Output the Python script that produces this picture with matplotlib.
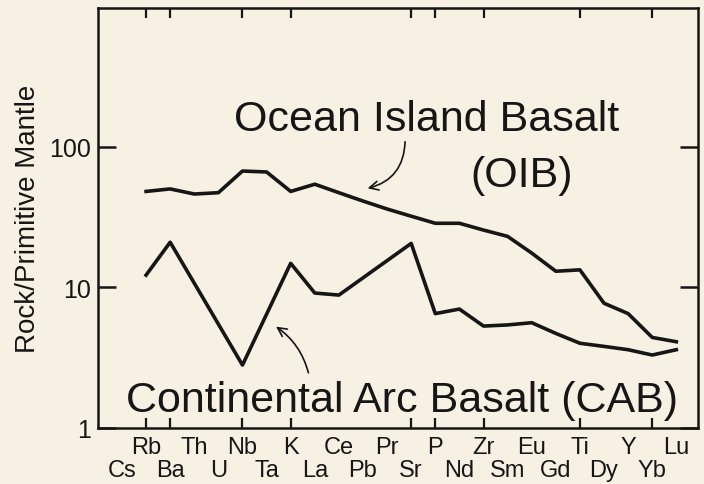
import matplotlib
matplotlib.use('Agg')
import matplotlib.pyplot as plt
import numpy as np

# element order along the x axis
elements = ['Cs', 'Rb', 'Ba', 'Th', 'U', 'Nb', 'Ta', 'K', 'La', 'Ce', 'Pb', 'Pr',
            'Sr', 'P', 'Nd', 'Zr', 'Sm', 'Eu', 'Gd', 'Ti', 'Dy', 'Y', 'Yb', 'Lu']

# Ocean Island Basalt, normalised to primitive mantle
oib_elements = ['Rb', 'Ba', 'Th', 'U', 'Nb', 'Ta', 'K', 'La', 'Ce', 'Pb', 'Pr',
                'Sr', 'P', 'Nd', 'Zr', 'Sm', 'Eu', 'Gd', 'Ti', 'Dy', 'Y', 'Yb', 'Lu']
oib_values = [48, 50, 46, 47, 67, 66, 48, 54, 47, 41, 36,
              32, 28.5, 28.5, 25.5, 23, 17.5, 13, 13.3, 7.7, 6.5, 4.4, 4.1]

# Continental Arc Basalt
cab_elements = ['Rb', 'Ba', 'Nb', 'K', 'La', 'Ce', 'Sr', 'P', 'Nd', 'Zr', 'Sm',
                'Eu', 'Gd', 'Ti', 'Dy', 'Y', 'Yb', 'Lu']
cab_values = [12.2, 20.9, 2.8, 14.8, 9.1, 8.8, 20.5, 6.5, 7.0, 5.3, 5.4,
              5.6, 4.7, 4.0, 3.8, 3.6, 3.3, 3.6]

# elements that get a tick mark on the frame
tick_elements = ['Rb', 'Ba', 'Nb', 'K', 'Sr', 'P', 'Zr', 'Ti', 'Yb']

bg = '#f6f1e3'
ink = '#161616'

plt.rcParams['font.family'] = ['Liberation Sans', 'DejaVu Sans']

fig = plt.figure(figsize=(7.04, 4.85), dpi=100, facecolor=bg)
ax = fig.add_axes([0.139, 0.1155, 0.8525, 0.866])
ax.set_facecolor(bg)

pos = {el: i for i, el in enumerate(elements)}
ax.plot([pos[e] for e in oib_elements], oib_values, color=ink, lw=2.6)
ax.plot([pos[e] for e in cab_elements], cab_values, color=ink, lw=2.6)

ax.set_yscale('log')
ax.set_ylim(1, 966)
ax.set_xlim(-1, 23.9)

for s in ax.spines.values():
    s.set_linewidth(1.8)
    s.set_color(ink)

# y axis: ticks inside on both sides
ax.set_yticks([1, 10, 100])
ax.set_yticklabels(['1', '10', '100'])
ax.yaxis.set_minor_locator(matplotlib.ticker.NullLocator())
ax.tick_params(axis='y', which='major', direction='in', length=13, width=1.8,
               right=True, labelsize=18, pad=5, colors=ink)

# x axis: only selected tick marks, labels drawn separately in two rows
ax.set_xticks([pos[e] for e in tick_elements])
ax.set_xticklabels([])
ax.tick_params(axis='x', direction='in', length=7, width=1.6, top=True,
               colors=ink)

for i, el in enumerate(elements):
    yrow = -0.045 if i % 2 == 1 else -0.1
    ax.text(i, yrow, el, transform=ax.get_xaxis_transform(), ha='center',
            va='center', fontsize=17, color=ink)

ax.set_ylabel('Rock/Primitive Mantle', fontsize=20, color=ink, labelpad=6)

# annotations
ax.text(0.547, 0.7095, 'Ocean Island Basalt', transform=ax.transAxes,
        ha='center', va='baseline', fontsize=31, color=ink)
ax.text(0.706, 0.576, '(OIB)', transform=ax.transAxes,
        ha='center', va='baseline', fontsize=31, color=ink)
ax.text(0.506, 0.0405, 'Continental Arc Basalt (CAB)', transform=ax.transAxes,
        ha='center', va='baseline', fontsize=31, color=ink)

ax.annotate('', xy=(0.445, 0.569), xytext=(0.512, 0.688),
            xycoords='axes fraction', textcoords='axes fraction',
            arrowprops=dict(arrowstyle='->', color=ink, lw=1.2,
                            connectionstyle='arc3,rad=-0.4',
                            mutation_scale=16))
ax.annotate('', xy=(0.293, 0.245), xytext=(0.352, 0.125),
            xycoords='axes fraction', textcoords='axes fraction',
            arrowprops=dict(arrowstyle='->', color=ink, lw=1.2,
                            connectionstyle='arc3,rad=0.2',
                            mutation_scale=16))

fig.savefig('out.png', dpi=100, facecolor=bg)
